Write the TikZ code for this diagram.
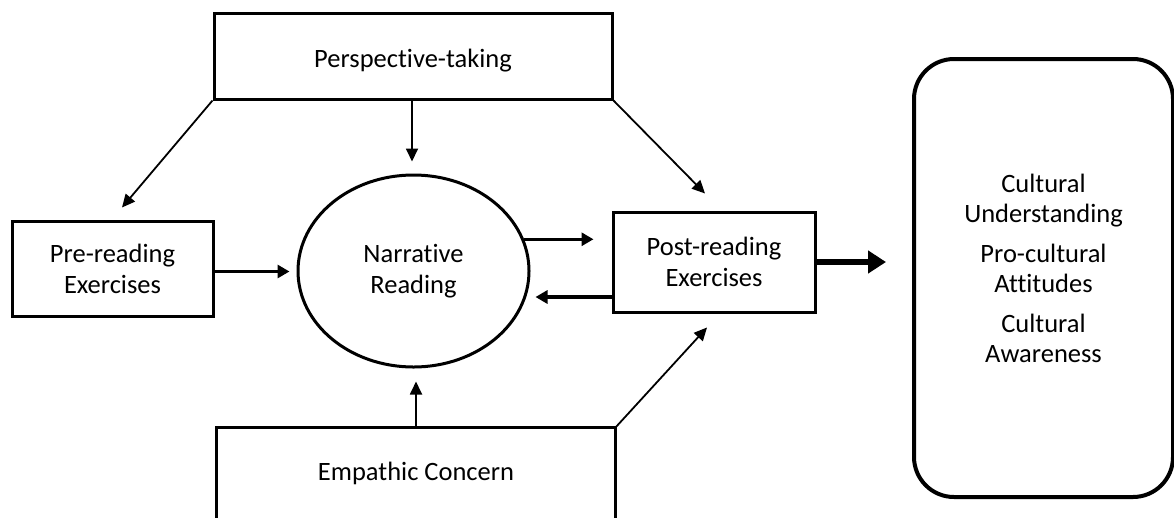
\documentclass[tikz,border=0pt]{standalone}
\usepackage{fontspec}
\setmainfont{Carlito}[Ligatures={NoCommon}]
\usetikzlibrary{arrows.meta,shapes.geometric,calc}
\tikzset{
  boxline/.style={line width=3pt, line join=miter},
  stdbox/.style={draw, boxline, rectangle, inner sep=0pt, align=center},
  lbl/.style={font=\fontsize{26.5pt}{31pt}\selectfont},
  thinarrow/.style={line width=1.8pt, -{Triangle[length=13pt,width=12pt]}},
  thickarrow/.style={line width=3.5pt, -{Triangle[length=12pt,width=13pt]}},
  bigarrow/.style={line width=6pt, -{Triangle[length=18pt,width=22pt]}},
}
\begin{document}
\begin{tikzpicture}[x=1pt,y=-1pt]
\useasboundingbox[fill=white] (0,0) rectangle (1174,517);
% nodes
\node[stdbox, lbl, minimum width=398pt, minimum height=86pt, text height=25pt, text depth=2pt] (persp) at (413,56) {Perspective-taking};
\node[stdbox, lbl, minimum width=201pt, minimum height=95pt] (pre) at (112.5,268.5) {Pre-reading\\Exercises};
\node[draw, line width=3pt, ellipse, inner sep=0pt, minimum width=231pt, minimum height=192pt, lbl, align=center] (ell) at (413.5,271) {Narrative\\Reading};
\node[stdbox, lbl, minimum width=202pt, minimum height=100pt] (post) at (714,262) {Post-reading\\Exercises};
\node[rectangle, inner sep=0pt, minimum width=398pt, minimum height=90pt, lbl] (emp) at (416,473) {Empathic Concern};
\draw[boxline] (emp.south west) -- (emp.north west) -- (emp.north east) -- (emp.south east);
\node[draw, line width=4pt, rectangle, rounded corners=40pt, inner sep=0pt, minimum width=259pt, minimum height=438pt] (out) at (1043.5,278) {};
\node[font=\fontsize{26.5pt}{30pt}\selectfont, align=center] (outtxt) at (1043.5,268) {Cultural\\Understanding\\[10pt]Pro-cultural\\Attitudes\\[10pt]Cultural\\Awareness};
% connectors
\draw[thinarrow] (persp.south west) -- ([xshift=9.5pt,yshift=12pt]pre.north);
\draw[thinarrow] ([xshift=-1pt]persp.south) -- ([xshift=-1.5pt,yshift=12pt]ell.north);
\draw[thinarrow] (persp.south east) -- ([xshift=-9pt,yshift=17pt]post.north);
\draw[thickarrow] ([yshift=-3pt]pre.east) -- ([xshift=75pt,yshift=-3pt]pre.east);
\draw[thickarrow] (ell.16) -- ([xshift=-18pt]ell.16 -| post.west);
\draw[thickarrow] ([yshift=-35pt]post.west) -- ([xshift=-76pt,yshift=-35pt]post.west);
\draw[thinarrow] (emp.north) -- ([yshift=-13pt]ell.south -| emp.north);
\draw[thinarrow] (emp.north east) -- ([xshift=-7pt,yshift=-14pt]post.south);
\draw[bigarrow] (post.east) -- ([xshift=-26pt]out.west |- post.east);
\end{tikzpicture}
\end{document}
